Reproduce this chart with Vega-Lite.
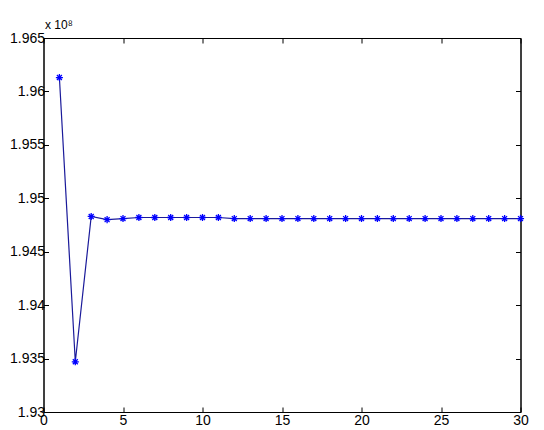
{
  "$schema": "https://vega.github.io/schema/vega-lite/v6.json",
  "width": 477,
  "height": 374,
  "autosize": {"type": "none"},
  "padding": {"left": 43.5, "top": 38, "right": 23, "bottom": 18},
  "background": "white",
  "config": {
    "view": {"stroke": "black", "strokeWidth": 1},
    "axis": {
      "grid": false,
      "domainColor": "black",
      "tickColor": "black",
      "tickSize": -5,
      "labelColor": "black",
      "labelFont": "Liberation Sans",
      "labelFontSize": 14,
      "titleFont": "Liberation Sans",
      "titleColor": "black"
    }
  },
  "data": {
    "values": [
      {"x": 1, "y": 1.9613},
      {"x": 2, "y": 1.9347},
      {"x": 3, "y": 1.9483},
      {"x": 4, "y": 1.9480},
      {"x": 5, "y": 1.9481},
      {"x": 6, "y": 1.9482},
      {"x": 7, "y": 1.9482},
      {"x": 8, "y": 1.9482},
      {"x": 9, "y": 1.9482},
      {"x": 10, "y": 1.9482},
      {"x": 11, "y": 1.9482},
      {"x": 12, "y": 1.9481},
      {"x": 13, "y": 1.9481},
      {"x": 14, "y": 1.9481},
      {"x": 15, "y": 1.9481},
      {"x": 16, "y": 1.9481},
      {"x": 17, "y": 1.9481},
      {"x": 18, "y": 1.9481},
      {"x": 19, "y": 1.9481},
      {"x": 20, "y": 1.9481},
      {"x": 21, "y": 1.9481},
      {"x": 22, "y": 1.9481},
      {"x": 23, "y": 1.9481},
      {"x": 24, "y": 1.9481},
      {"x": 25, "y": 1.9481},
      {"x": 26, "y": 1.9481},
      {"x": 27, "y": 1.9481},
      {"x": 28, "y": 1.9481},
      {"x": 29, "y": 1.9481},
      {"x": 30, "y": 1.9481}
    ]
  },
  "layer": [
    {
      "mark": {"type": "line", "color": "#1a1a9a", "strokeWidth": 1.2},
      "encoding": {
        "x": {
          "field": "x", "type": "quantitative",
          "scale": {"domain": [0, 30], "nice": false, "zero": false},
          "axis": {"values": [0, 5, 10, 15, 20, 25, 30], "title": null, "labelPadding": 6, "labelFlush": false}
        },
        "y": {
          "field": "y", "type": "quantitative",
          "scale": {"domain": [1.93, 1.965], "nice": false, "zero": false},
          "axis": {
            "values": [1.93, 1.935, 1.94, 1.945, 1.95, 1.955, 1.96, 1.965],
            "format": ".3~f",
            "labelPadding": 4,
            "labelFlush": false,
            "title": "x 10⁸",
            "titleAngle": 0,
            "titleAlign": "left",
            "titleBaseline": "alphabetic",
            "titleFontSize": 12,
            "titleFontWeight": "normal",
            "titleX": 1,
            "titleY": -10
          }
        }
      }
    },
    {
      "mark": {"type": "point", "opacity": 0},
      "encoding": {
        "x": {
          "field": "x", "type": "quantitative",
          "axis": {"orient": "top", "values": [0, 5, 10, 15, 20, 25, 30], "labels": false, "title": null}
        },
        "y": {
          "field": "y", "type": "quantitative",
          "axis": {"orient": "right", "values": [1.93, 1.935, 1.94, 1.945, 1.95, 1.955, 1.96, 1.965], "labels": false, "title": null}
        }
      }
    },
    {
      "mark": {
        "type": "point",
        "shape": "M-1,0L1,0M0,-1L0,1M-0.7,-0.7L0.7,0.7M-0.7,0.7L0.7,-0.7",
        "color": "#0000ff",
        "filled": false,
        "strokeWidth": 1.3,
        "size": 50,
        "opacity": 1
      },
      "encoding": {
        "x": {"field": "x", "type": "quantitative", "axis": null},
        "y": {"field": "y", "type": "quantitative", "axis": null}
      }
    }
  ],
  "resolve": {"axis": {"x": "independent", "y": "independent"}}
}
